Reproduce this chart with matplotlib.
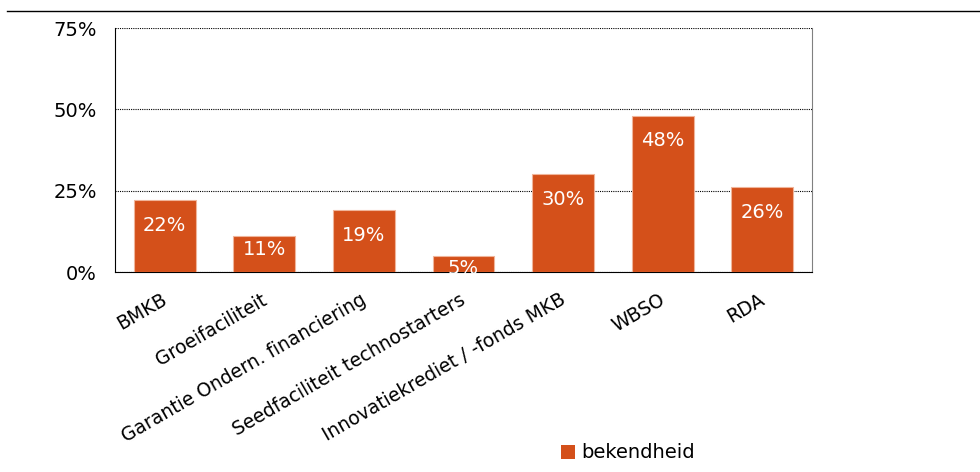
import matplotlib
matplotlib.use('Agg')
import matplotlib.pyplot as plt
import matplotlib.transforms as mtransforms
from matplotlib.patches import Patch
from matplotlib.lines import Line2D

categories = ['BMKB', 'Groeifaciliteit', 'Garantie Ondern. financiering',
              'Seedfaciliteit technostarters', 'Innovatiekrediet / -fonds MKB',
              'WBSO', 'RDA']
bekendheid = [22, 11, 19, 5, 30, 48, 26]
yticks = [0, 25, 50, 75]
series_name = 'bekendheid'

kleur = '#D4501A'
plt.rcParams['font.family'] = ['DejaVu Sans']

fig = plt.figure(figsize=(9.8, 4.72), dpi=100)
ax = fig.add_axes([115/980, 1-272/472, 697/980, 244/472])

x = range(len(categories))
ax.bar(x, bekendheid, width=0.62, color=kleur, edgecolor='#F0B59A', linewidth=0.8, zorder=3)

# labels binnen de balk, bovenaan (bij lage balken wat hoger)
for i, v in zip(x, bekendheid):
    y = v - 7.7
    if y < v / 2:
        y = v - 4.0
    ax.text(i, y, '%d%%' % v, ha='center', va='center', color='white', fontsize=14, zorder=4)

ax.set_xlim(-0.5, len(categories) - 0.5)
ax.set_ylim(0, 75)
ax.set_yticks(yticks)
ax.set_yticklabels(['%d%%' % t for t in yticks], fontsize=14)
ax.yaxis.grid(True, linestyle=(0, (1, 1)), color='black', linewidth=0.8, zorder=1)
ax.set_xticks(list(x))
ax.set_xticklabels(categories, fontsize=13.5, rotation=30, ha='right', va='top', rotation_mode='anchor')
ax.tick_params(axis='x', length=0, pad=13)
ax.tick_params(axis='y', length=0, pad=13)

# labels een paar pixels naar links
shift = mtransforms.ScaledTranslation(-4/100, 0, fig.dpi_scale_trans)
for lbl in ax.get_xticklabels():
    lbl.set_transform(lbl.get_transform() + shift)

ax.spines['top'].set_visible(False)
ax.spines['right'].set_color('#808080')
ax.spines['left'].set_color('black')
ax.spines['bottom'].set_color('black')

# lijn boven de figuur
fig.add_artist(Line2D([7/980, 1], [1-11/472, 1-11/472], color='black', linewidth=1.0))

fig.legend(handles=[Patch(facecolor=kleur, label=series_name)], loc='center',
           bbox_to_anchor=(628/980, 1-453/472), frameon=False, fontsize=14,
           handlelength=0.7, handleheight=0.7, handletextpad=0.3)

fig.savefig('out.png', dpi=100)
